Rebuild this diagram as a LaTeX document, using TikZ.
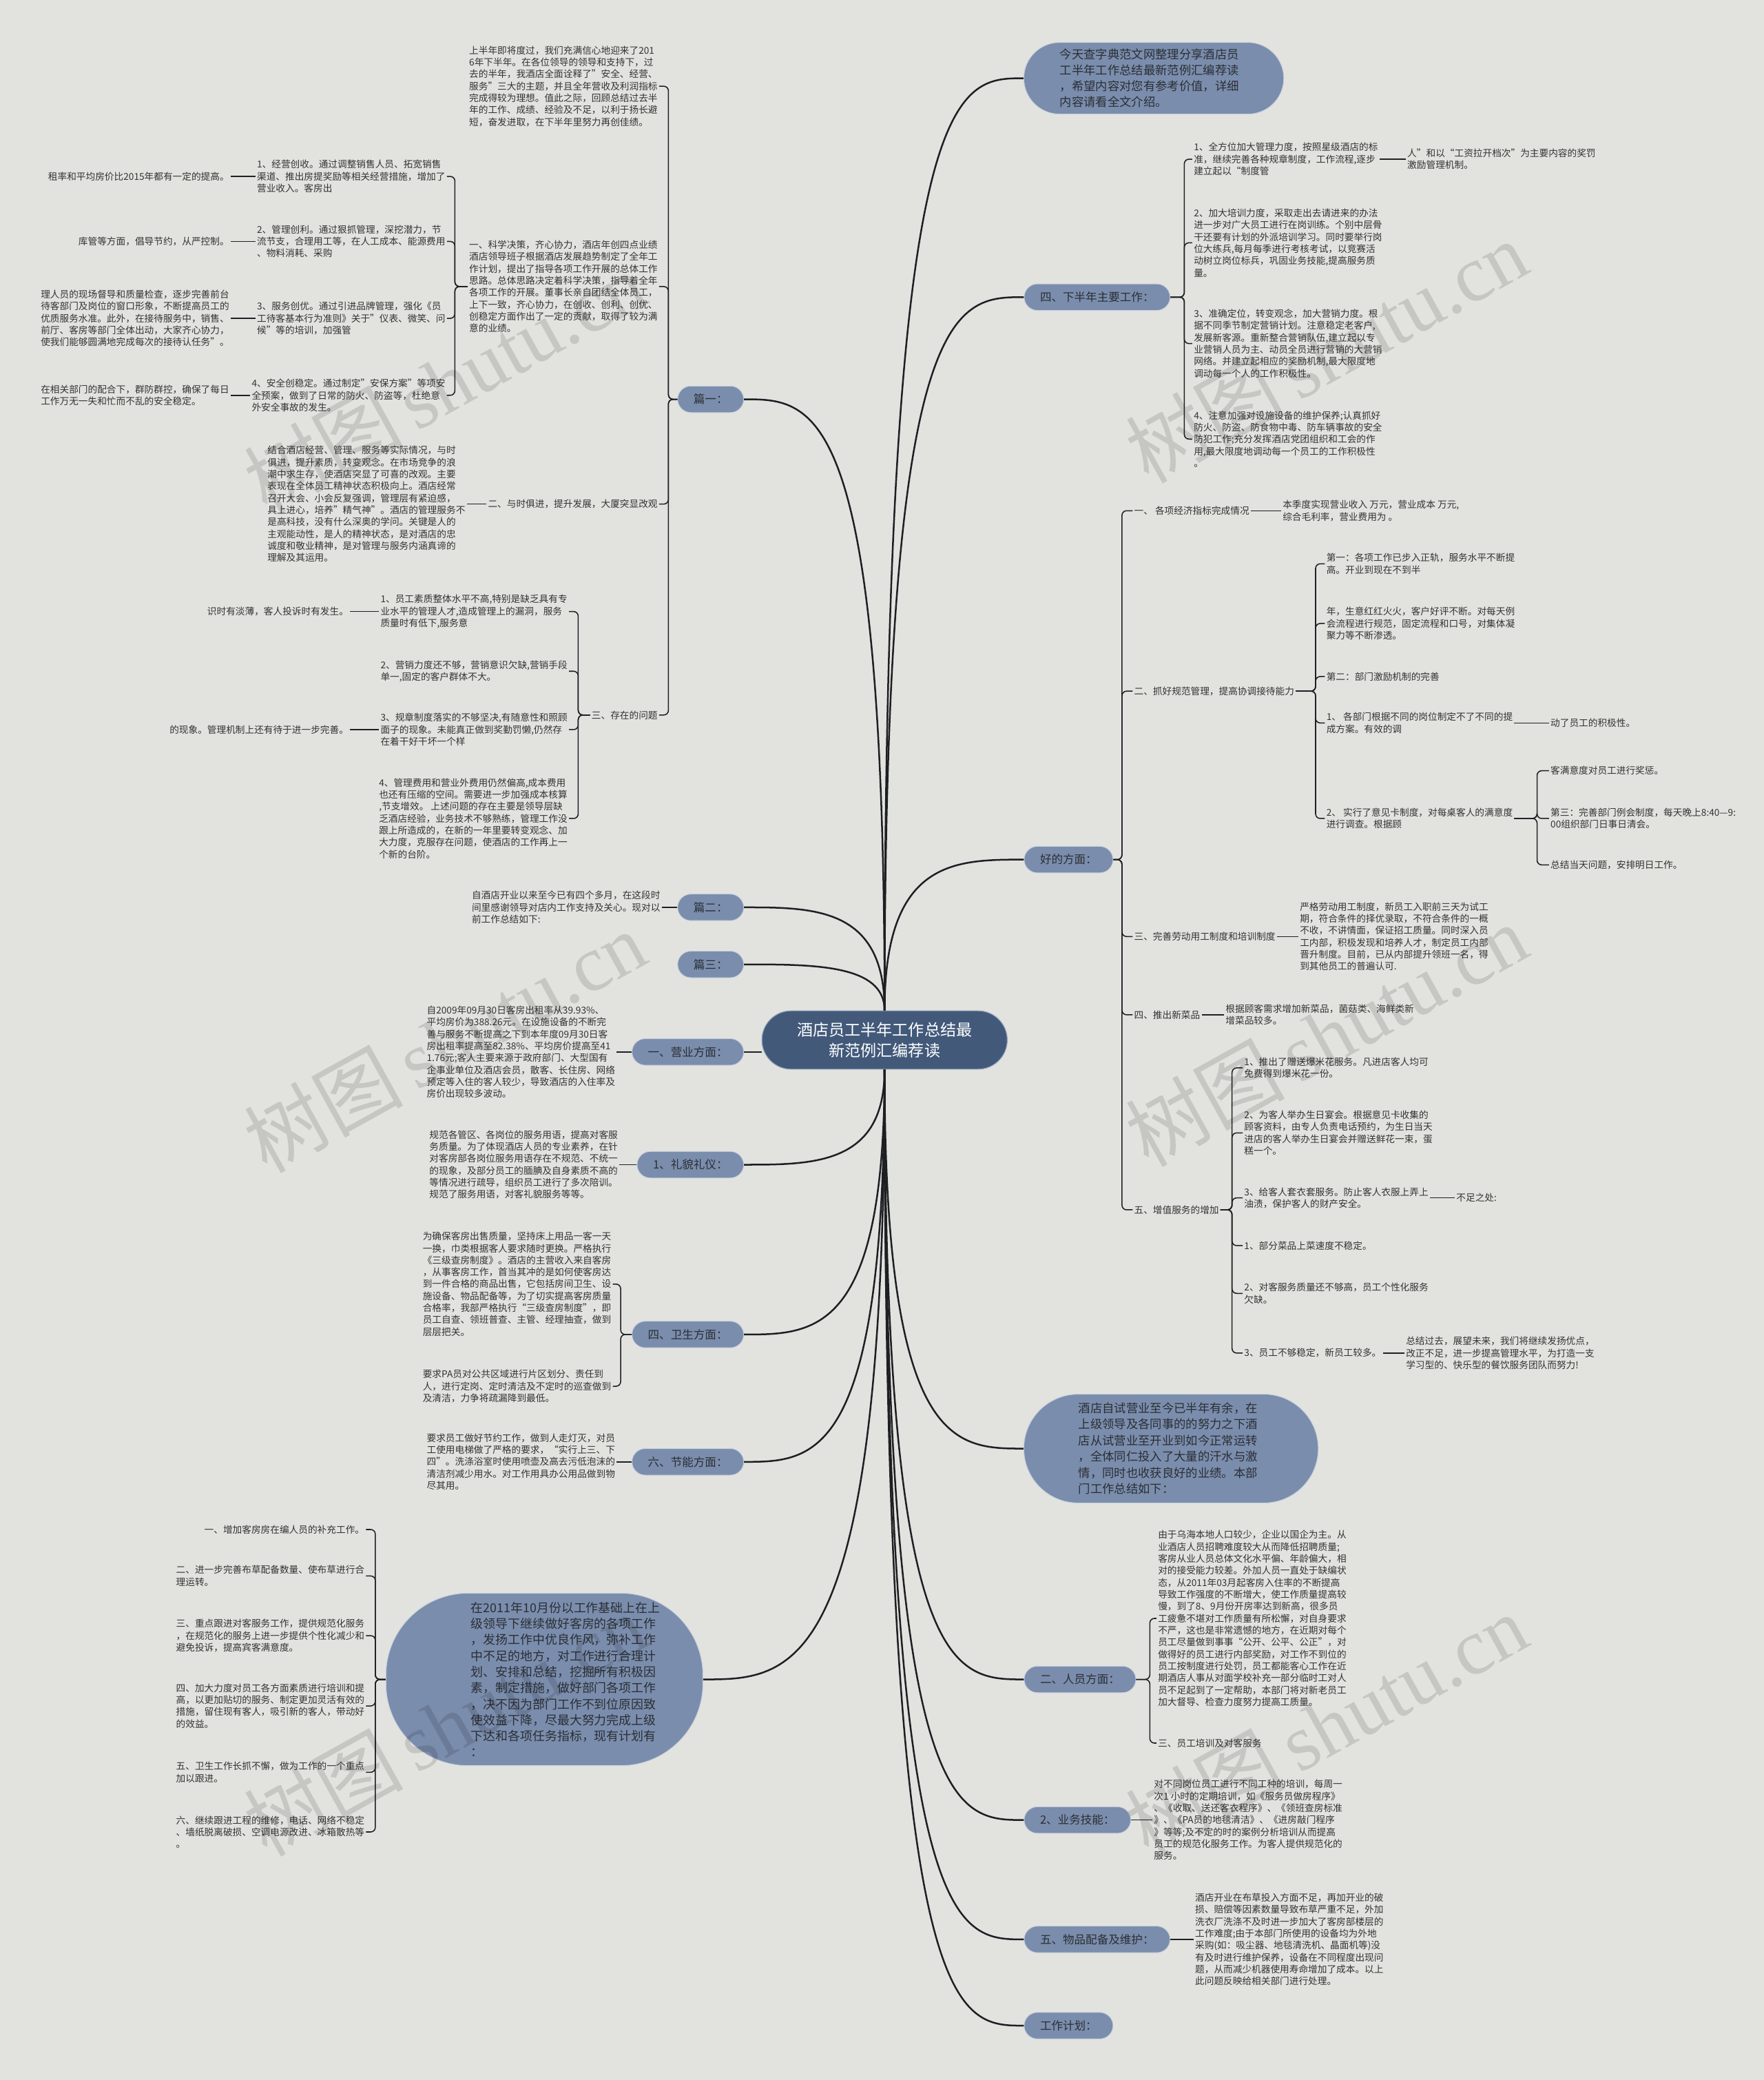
\documentclass[tikz,border=0pt]{standalone}
\usepackage{fontspec}
\setmainfont{Noto Sans CJK SC}
\newfontfamily\wmfont{Liberation Serif}
\definecolor{bgc}{HTML}{E2E3DF}
\definecolor{hubc}{HTML}{42597A}
\definecolor{hubedge}{HTML}{8FA0B8}
\definecolor{bubc}{HTML}{7A8DAD}
\definecolor{bubedge}{HTML}{C5CEDB}
\definecolor{bubtx}{HTML}{2B2E33}
\definecolor{txc}{HTML}{333333}
\definecolor{lnc}{HTML}{1E1F22}
\tikzset{
 T/.style={font=\fontsize{7.1}{9}\selectfont, text=txc, align=left, inner sep=1pt},
 TR/.style={T, anchor=west},
 TL/.style={T, anchor=east},
 bub/.style={fill=bubc, draw=bubedge, line width=0.5pt, rounded corners=10pt, minimum height=20pt, inner xsep=12pt, inner ysep=0pt, text=bubtx, font=\fontsize{8.6}{10}\selectfont},
 bubR/.style={bub, anchor=west},
 bubL/.style={bub, anchor=east},
 bigbub/.style={fill=bubc, draw=bubedge, line width=0.5pt},
 bigtx/.style={anchor=west, inner sep=0pt, text=bubtx, align=left},
 brk/.style={draw=lnc, line width=0.8pt, rounded corners=3.5pt},
 mainc/.style={draw=lnc, line width=1.3pt},
 wm/.style={text=black, opacity=0.12, rotate=29, inner sep=0pt}
}
\begin{document}
\begin{tikzpicture}[x=1pt,y=-1pt]
\fill[bgc] (0,0) rectangle (1330,1568);
\useasboundingbox (0,0) rectangle (1330,1568);

% ---------- hub ----------
\node[fill=hubc, draw=hubedge, line width=0.6pt, rounded corners=22pt, minimum width=185pt, minimum height=44pt, text=white, font=\fontsize{12}{15.6}\selectfont, align=center] (hub) at (667,784) {酒店员工半年工作总结最\\新范例汇编荐读};

% ---------- right side ----------
\node[bigbub, rounded corners=27pt, minimum width=196pt, minimum height=54pt] (intro) at (870,59) {};
\node[bigtx, font=\fontsize{9}{12}\selectfont] (introtx) at (799,59) {今天查字典范文网整理分享酒店员\\工半年工作总结最新范例汇编荐读\\，希望内容对您有参考价值，详细\\内容请看全文介绍。};

\node[bubR] (xia) at (772,224) {四、下半年主要工作：};
\coordinate (kx) at (893,0);
\node[TR] (x1) at (899,120) {1、全方位加大管理力度，按照星级酒店的标\\准，继续完善各种规章制度，工作流程,逐步\\建立起以“制度管};
\node[TR] (x1c) at (1060,120) {人”和以“工资拉开档次”为主要内容的奖罚\\激励管理机制。};
\node[TR] (x2) at (899,183) {2、加大培训力度，采取走出去请进来的办法\\进一步对广大员工进行在岗训练。个别中层骨\\干还要有计划的外派培训学习。同时要举行岗\\位大练兵,每月每季进行考核考试，以竞赛活\\动树立岗位标兵，巩固业务技能,提高服务质\\量。};
\node[TR] (x3) at (899,259) {3、准确定位，转变观念，加大营销力度。根\\据不同季节制定营销计划。注意稳定老客户,\\发展新客源。重新整合营销队伍,建立起以专\\业营销人员为主、动员全员进行营销的大营销\\网络。并建立起相应的奖励机制,最大限度地\\调动每一个人的工作积极性。};
\node[TR] (x4) at (899,331) {4、注意加强对设施设备的维护保养;认真抓好\\防火、防盗、防食物中毒、防车辆事故的安全\\防犯工作;充分发挥酒店党团组织和工会的作\\用,最大限度地调动每一个员工的工作积极性\\。};
\foreach \c in {x1,x2,x3,x4} \draw[brk] (xia.east) -- (xia.east -| kx) |- (\c.west);
\draw[brk] (x1.east) -- (x1c.west);

\node[bubR] (hao) at (772,648) {好的方面：};
\coordinate (kh) at (846,0);
\node[TR] (h1) at (854,385) {一、 各项经济指标完成情况};
\node[TR] (h1c) at (966,385) {本季度实现营业收入 万元，营业成本 万元,\\综合毛利率，营业费用为 。};
\node[TR] (h2) at (854,521) {二、抓好规范管理，提高协调接待能力};
\coordinate (kh2) at (992,0);
\node[TR] (h2a) at (999,425) {第一：各项工作已步入正轨，服务水平不断提\\高。开业到现在不到半};
\node[TR] (h2b) at (999,470) {年，生意红红火火，客户好评不断。对每天例\\会流程进行规范，固定流程和口号，对集体凝\\聚力等不断渗透。};
\node[TR] (h2c) at (999,510) {第二：部门激励机制的完善};
\node[TR] (h2d) at (999,545) {1、 各部门根据不同的岗位制定不了不同的提\\成方案。有效的调};
\node[TR] (h2dc) at (1168,545) {动了员工的积极性。};
\node[TR] (h2e) at (999,617) {2、 实行了意见卡制度，对每桌客人的满意度\\进行调查。根据顾};
\coordinate (kh3) at (1159,0);
\node[TR] (h2e1) at (1168,581) {客满意度对员工进行奖惩。};
\node[TR] (h2e2) at (1168,617) {第三：完善部门例会制度，每天晚上8:40—9:\\00组织部门日事日清会。};
\node[TR] (h2e3) at (1168,652) {总结当天问题，安排明日工作。};
\node[TR] (h3) at (854,706) {三、完善劳动用工制度和培训制度};
\node[TR] (h3c) at (979,706) {严格劳动用工制度，新员工入职前三天为试工\\期，符合条件的择优录取，不符合条件的一概\\不收，不讲情面，保证招工质量。同时深入员\\工内部，积极发现和培养人才，制定员工内部\\晋升制度。目前，已从内部提升领班一名，得\\到其他员工的普遍认可.};
\node[TR] (h4) at (854,765) {四、推出新菜品};
\node[TR] (h4c) at (923,765) {根据顾客需求增加新菜品，菌菇类、海鲜类新\\增菜品较多。};
\node[TR] (h5) at (854,912) {五、增值服务的增加};
\coordinate (kh5) at (929,0);
\node[TR] (h5a) at (937,805) {1、推出了赠送爆米花服务。凡进店客人均可\\免费得到爆米花一份。};
\node[TR] (h5b) at (937,854) {2、为客人举办生日宴会。根据意见卡收集的\\顾客资料，由专人负责电话预约，为生日当天\\进店的客人举办生日宴会并赠送鲜花一束，蛋\\糕一个。};
\node[TR] (h5c) at (937,903) {3、给客人套衣套服务。防止客人衣服上弄上\\油渍，保护客人的财产安全。};
\node[TR] (h5cc) at (1097,903) {不足之处:};
\node[TR] (h5d) at (937,939) {1、部分菜品上菜速度不稳定。};
\node[TR] (h5e) at (937,975) {2、对客服务质量还不够高，员工个性化服务\\欠缺。};
\node[TR] (h5f) at (937,1020) {3、员工不够稳定，新员工较多。};
\node[TR] (h5fc) at (1059,1020) {总结过去，展望未来，我们将继续发扬优点，\\改正不足，进一步提高管理水平，为打造一支\\学习型的、快乐型的餐饮服务团队而努力!};
\foreach \c in {h1,h2,h3,h4,h5} \draw[brk] (hao.east) -- (hao.east -| kh) |- (\c.west);
\draw[brk] (h1.east) -- (h1c.west);
\foreach \c in {h2a,h2b,h2c,h2d,h2e} \draw[brk] (h2.east) -- (h2.east -| kh2) |- (\c.west);
\draw[brk] (h2d.east) -- (h2dc.west);
\foreach \c in {h2e1,h2e2,h2e3} \draw[brk] (h2e.east) -- (h2e.east -| kh3) |- (\c.west);
\draw[brk] (h3.east) -- (h3c.west);
\draw[brk] (h4.east) -- (h4c.west);
\foreach \c in {h5a,h5b,h5c,h5d,h5e,h5f} \draw[brk] (h5.east) -- (h5.east -| kh5) |- (\c.west);
\draw[brk] (h5c.east) -- (h5cc.west);
\draw[brk] (h5f.east) -- (h5fc.west);

\node[bigbub, rounded corners=41pt, minimum width=222pt, minimum height=82pt] (sum) at (883,1092) {};
\node[bigtx, font=\fontsize{9}{12.2}\selectfont] (sumtx) at (813,1092) {酒店自试营业至今已半年有余，在\\上级领导及各同事的的努力之下酒\\店从试营业至开业到如今正常运转\\，全体同仁投入了大量的汗水与激\\情，同时也收获良好的业绩。本部\\门工作总结如下：};

\node[bubR] (ren) at (772,1266) {二、人员方面：};
\coordinate (kr) at (867,0);
\node[TR] (r1) at (872,1220) {由于乌海本地人口较少，企业以国企为主。从\\业酒店人员招聘难度较大从而降低招聘质量;\\客房从业人员总体文化水平偏、年龄偏大，相\\对的接受能力较差。外加人员一直处于缺编状\\态，从2011年03月起客房入住率的不断提高\\导致工作强度的不断增大，使工作质量提高较\\慢，到了8、9月份开房率达到新高，很多员\\工疲惫不堪对工作质量有所松懈，对自身要求\\不严，这也是非常遗憾的地方，在近期对每个\\员工尽量做到事事“公开、公平、公正”，对\\做得好的员工进行内部奖励，对工作不到位的\\员工按制度进行处罚，员工都能客心工作在近\\期酒店人事从对面学校补充一部分临时工对人\\员不足起到了一定帮助，本部门将对新老员工\\加大督导、检查力度努力提高工质量。};
\node[TR] (r2) at (872,1314) {三、员工培训及对客服务};
\foreach \c in {r1,r2} \draw[brk] (ren.east) -- (ren.east -| kr) |- (\c.west);

\node[bubR] (ye) at (772,1372) {2、业务技能：};
\node[TR] (yec) at (869,1372) {对不同岗位员工进行不同工种的培训，每周一\\次1 小时的定期培训，如《服务员做房程序》\\、《收取、送还客衣程序》、《领班查房标准\\》、《PA员的地毯清洁》、《进房敲门程序\\》等等;及不定的时的案例分析培训从而提高\\员工的规范化服务工作。为客人提供规范化的\\服务。};
\draw[brk] (ye.east) -- (yec.west);

\node[bubR] (wu) at (772,1462) {五、物品配备及维护：};
\node[TR] (wuc) at (900,1462) {酒店开业在布草投入方面不足，再加开业的破\\损、赔偿等因素数量导致布草严重不足，外加\\洗衣厂洗涤不及时进一步加大了客房部楼层的\\工作难度;由于本部门所使用的设备均为外地\\采购(如：吸尘器、地毯清洗机、晶面机等)没\\有及时进行维护保养，设备在不同程度出现问\\题，从而减少机器使用寿命增加了成本。以上\\此问题反映给相关部门进行处理。};
\draw[brk] (wu.east) -- (wuc.west);

\node[bubR] (gz) at (772,1527) {工作计划：};

% ---------- left side ----------
\node[bubL] (p1) at (561,301) {篇一：};
\coordinate (kp1) at (504,0);
\node[TL] (p1a) at (497,65) {上半年即将度过，我们充满信心地迎来了201\\6年下半年。在各位领导的领导和支持下，过\\去的半年，我酒店全面诠释了"安全、经营、\\服务"三大的主题，并且全年营收及利润指标\\完成得较为理想。值此之际，回顾总结过去半\\年的工作、成绩、经验及不足，以利于扬长避\\短，奋发进取，在下半年里努力再创佳绩。};
\node[TL] (p1b) at (497,216) {一、科学决策，齐心协力，酒店年创四点业绩\\酒店领导班子根据酒店发展趋势制定了全年工\\作计划，提出了指导各项工作开展的总体工作\\思路。总体思路决定着科学决策，指导着全年\\各项工作的开展。董事长亲自团结全体员工，\\上下一致，齐心协力，在创收、创利、创优、\\创稳定方面作出了一定的贡献，取得了较为满\\意的业绩。};
\coordinate (kb) at (343,0);
\node[TL] (b1) at (337,133) {1、经营创收。通过调整销售人员、拓宽销售\\渠道、推出房提奖励等相关经营措施，增加了\\营业收入。客房出};
\node[TL] (b1c) at (174,133) {租率和平均房价比2015年都有一定的提高。};
\node[TL] (b2) at (337,182) {2、管理创利。通过狠抓管理，深挖潜力，节\\流节支，合理用工等，在人工成本、能源费用\\、物料消耗、采购};
\node[TL] (b2c) at (174,182) {库管等方面，倡导节约，从严控制。};
\node[TL] (b3) at (337,240) {3、服务创优。通过引进品牌管理，强化《员\\工待客基本行为准则》关于"仪表、微笑、问\\候"等的培训，加强管};
\node[TL] (b3c) at (174,240) {理人员的现场督导和质量检查，逐步完善前台\\待客部门及岗位的窗口形象，不断提高员工的\\优质服务水准。此外，在接待服务中，销售、\\前厅、客房等部门全体出动，大家齐心协力，\\使我们能够圆满地完成每次的接待认任务”。};
\node[TL] (b4) at (337,298) {4、安全创稳定。通过制定"安保方案"等项安\\全预案，做到了日常的防火、防盗等，杜绝意\\外安全事故的发生。};
\node[TL] (b4c) at (174,298) {在相关部门的配合下，群防群控，确保了每日\\工作万无一失和忙而不乱的安全稳定。};
\node[TL] (p1c) at (497,380) {二、与时俱进，提升发展，大厦突显改观};
\node[TL] (p1cc) at (352,380) {结合酒店经营、管理、服务等实际情况，与时\\俱进，提升素质，转变观念。在市场竞争的浪\\潮中求生存，使酒店突显了可喜的改观。主要\\表现在全体员工精神状态积极向上。酒店经常\\召开大会、小会反复强调，管理层有紧迫感，\\具上进心，培养"精气神"。酒店的管理服务不\\是高科技，没有什么深奥的学问。关键是人的\\主观能动性，是人的精神状态，是对酒店的忠\\诚度和敬业精神，是对管理与服务内涵真谛的\\理解及其运用。};
\node[TL] (p1d) at (497,539) {三、存在的问题};
\coordinate (kd) at (436,0);
\node[TL] (d1) at (429,461) {1、员工素质整体水平不高,特别是缺乏具有专\\业水平的管理人才,造成管理上的漏洞，服务\\质量时有低下,服务意};
\node[TL] (d1c) at (264,461) {识时有淡薄，客人投诉时有发生。};
\node[TL] (d2) at (429,506) {2、营销力度还不够，营销意识欠缺,营销手段\\单一,固定的客户群体不大。};
\node[TL] (d3) at (429,550) {3、规章制度落实的不够坚决,有随意性和照顾\\面子的现象。未能真正做到奖勤罚懒,仍然存\\在着干好干坏一个样};
\node[TL] (d3c) at (264,550) {的现象。管理机制上还有待于进一步完善。};
\node[TL] (d4) at (429,617) {4、管理费用和营业外费用仍然偏高,成本费用\\也还有压缩的空间。需要进一步加强成本核算\\,节支增效。 上述问题的存在主要是领导层缺\\乏酒店经验，业务技术不够熟练，管理工作没\\跟上所造成的，在新的一年里要转变观念、加\\大力度，克服存在问题，使酒店的工作再上一\\个新的台阶。};
\foreach \c in {p1a,p1b,p1c,p1d} \draw[brk] (p1.west) -- (p1.west -| kp1) |- (\c.east);
\foreach \c in {b1,b2,b3,b4} \draw[brk] (p1b.west) -- (p1b.west -| kb) |- (\c.east);
\draw[brk] (b1.west) -- (b1c.east);
\draw[brk] (b2.west) -- (b2c.east);
\draw[brk] (b3.west) -- (b3c.east);
\draw[brk] (b4.west) -- (b4c.east);
\draw[brk] (p1c.west) -- (p1cc.east);
\foreach \c in {d1,d2,d3,d4} \draw[brk] (p1d.west) -- (p1d.west -| kd) |- (\c.east);
\draw[brk] (d1.west) -- (d1c.east);
\draw[brk] (d3.west) -- (d3c.east);

\node[bubL] (p2) at (561,684) {篇二：};
\node[TL] (p2c) at (499,684) {自酒店开业以来至今已有四个多月，在这段时\\间里感谢领导对店内工作支持及关心。现对以\\前工作总结如下:};
\draw[brk] (p2.west) -- (p2c.east);
\node[bubL] (p3) at (561,727) {篇三：};

\node[bubL] (yy) at (561,793) {一、营业方面：};
\node[TL] (yyc) at (465,793) {自2009年09月30日客房出租率从39.93\%、\\平均房价为388.26元。在设施设备的不断完\\善与服务不断提高之下到本年度09月30日客\\房出租率提高至82.38\%、平均房价提高至41\\1.76元;客人主要来源于政府部门、大型国有\\企事业单位及酒店会员，散客、长住房、网络\\预定等入住的客人较少，导致酒店的入住率及\\房价出现较多波动。};
\draw[brk] (yy.west) -- (yyc.east);

\node[bubL] (li) at (561,878) {1、礼貌礼仪：};
\node[TL] (lic) at (467,878) {规范各管区、各岗位的服务用语，提高对客服\\务质量。为了体现酒店人员的专业素养，在针\\对客房部各岗位服务用语存在不规范、不统一\\的现象，及部分员工的腼腆及自身素质不高的\\等情况进行疏导，组织员工进行了多次陪训。\\规范了服务用语，对客礼貌服务等等。};
\draw[brk] (li.west) -- (lic.east);

\node[bubL] (ws) at (561,1006) {四、卫生方面：};
\coordinate (kw) at (468,0);
\node[TL] (ws1) at (462,968) {为确保客房出售质量，坚持床上用品一客一天\\一换，巾类根据客人要求随时更换。严格执行\\《三级查房制度》。酒店的主营收入来自客房\\，从事客房工作，首当其冲的是如何使客房达\\到一件合格的商品出售，它包括房间卫生、设\\施设备、物品配备等，为了切实提高客房质量\\合格率，我部严格执行“三级查房制度”，即\\员工自查、领班普查、主管、经理抽查，做到\\层层把关。};
\node[TL] (ws2) at (462,1045) {要求PA员对公共区域进行片区划分、责任到\\人，进行定岗、定时清洁及不定时的巡查做到\\及清洁，力争将疏漏降到最低。};
\foreach \c in {ws1,ws2} \draw[brk] (ws.west) -- (ws.west -| kw) |- (\c.east);

\node[bubL] (jn) at (561,1102) {六、节能方面：};
\node[TL] (jnc) at (465,1102) {要求员工做好节约工作，做到人走灯灭，对员\\工使用电梯做了严格的要求，“实行上三、下\\四”。洗涤浴室时使用喷壶及高去污低泡沫的\\清洁剂减少用水。对工作用具办公用品做到物\\尽其用。};
\draw[brk] (jn.west) -- (jnc.east);

\node[bigbub, rounded corners=62pt, minimum width=239pt, minimum height=130pt] (plan) at (410.5,1266) {};
\node[bigtx, font=\fontsize{9.3}{12.1}\selectfont] (plantx) at (355,1266) {在2011年10月份以工作基础上在上\\级领导下继续做好客房的各项工作\\，发扬工作中优良作风，弥补工作\\中不足的地方，对工作进行合理计\\划、安排和总结，挖掘所有积极因\\素，制定措施，做好部门各项工作\\，决不因为部门工作不到位原因致\\使效益下降，尽最大努力完成上级\\下达和各项任务指标，现有计划有\\：};
\coordinate (kpl) at (283,0);
\node[TL] (pl1) at (276,1153) {一、增加客房房在编人员的补充工作。};
\node[TL] (pl2) at (276,1188) {二、进一步完善布草配备数量、使布草进行合\\理运转。};
\node[TL] (pl3) at (276,1233) {三、重点跟进对客服务工作，提供规范化服务\\，在规范化的服务上进一步提供个性化减少和\\避免投诉，提高宾客满意度。};
\node[TL] (pl4) at (276,1286) {四、加大力度对员工各方面素质进行培训和提\\高，以更加贴切的服务、制定更加灵活有效的\\措施，留住现有客人，吸引新的客人，带动好\\的效益。};
\node[TL] (pl5) at (276,1336) {五、卫生工作长抓不懈，做为工作的一个重点\\加以跟进。};
\node[TL] (pl6) at (276,1381) {六、继续跟进工程的维修，电话、网络不稳定\\、墙纸脱离破损、空调电源改进、冰箱散热等\\。};
\foreach \c in {pl1,pl2,pl3,pl4,pl5,pl6} \draw[brk] (plan.west) -- (plan.west -| kpl) |- (\c.east);

% ---------- main connectors ----------
\draw[mainc] (hub.north) .. controls (667,59) and (720,59) .. (intro.west);
\draw[mainc] (hub.north) .. controls (667,224) and (720,224) .. (xia.west);
\draw[mainc] (hub.north) .. controls (667,648) and (720,648) .. (hao.west);
\draw[mainc] (hub.south) .. controls (667,1092) and (720,1092) .. (sum.west);
\draw[mainc] (hub.south) .. controls (667,1266) and (720,1266) .. (ren.west);
\draw[mainc] (hub.south) .. controls (667,1372) and (720,1372) .. (ye.west);
\draw[mainc] (hub.south) .. controls (667,1462) and (720,1462) .. (wu.west);
\draw[mainc] (hub.south) .. controls (667,1527) and (720,1527) .. (gz.west);
\draw[mainc] (hub.north) .. controls (667,301) and (614,301) .. (p1.east);
\draw[mainc] (hub.north) .. controls (667,684) and (614,684) .. (p2.east);
\draw[mainc] (hub.north) .. controls (667,727) and (614,727) .. (p3.east);
\draw[mainc] (yy.east) -- (hub.west |- yy.east);
\draw[mainc] (hub.south) .. controls (667,878) and (614,878) .. (li.east);
\draw[mainc] (hub.south) .. controls (667,1006) and (614,1006) .. (ws.east);
\draw[mainc] (hub.south) .. controls (667,1102) and (614,1102) .. (jn.east);
\draw[mainc] (hub.south) .. controls (667,1266) and (598,1266) .. (plan.east);

% ---------- watermarks ----------
\foreach \wx/\wy [count=\i] in {335/288, 335/785, 335/1300, 1000/265, 1000/780, 1000/1300}
  \node[wm] (wm\i) at (\wx,\wy) {\fontsize{60}{60}\selectfont 树图\,{\wmfont shutu.cn}};
\end{tikzpicture}
\end{document}
